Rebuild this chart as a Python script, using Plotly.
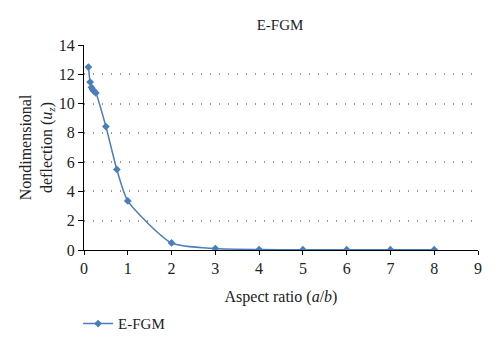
import plotly.graph_objects as go

aspect_ratio = [0.1, 0.14, 0.17, 0.2, 0.23, 0.27, 0.5, 0.75, 1, 2, 3, 4, 5, 6, 7, 8]
deflection = [12.49, 11.47, 11.1, 10.95, 10.84, 10.73, 8.43, 5.5, 3.35, 0.48, 0.1, 0.03, 0.02, 0.02, 0.02, 0.02]

x_ticks = [0, 1, 2, 3, 4, 5, 6, 7, 8, 9]
y_ticks = [0, 2, 4, 6, 8, 10, 12, 14]

color = "#4a7ebb"
font = "Liberation Serif"

fig = go.Figure()
fig.add_trace(go.Scatter(
    x=aspect_ratio, y=deflection, mode="lines+markers", name="E-FGM",
    line=dict(color=color, width=1.5, shape="spline", smoothing=0.6),
    marker=dict(symbol="diamond", size=6, color=color),
))

fig.update_layout(
    width=500, height=352,
    margin=dict(l=84, r=22, t=45, b=100),
    paper_bgcolor="white", plot_bgcolor="white",
    font=dict(family=font, size=16, color="#222"),
    title=dict(text="E-FGM", x=0.56, xanchor="center", y=0.93, yanchor="middle",
               font=dict(family=font, size=15, color="#222")),
    showlegend=True,
    legend=dict(x=-0.015, xanchor="left", y=-0.36, yanchor="middle",
                font=dict(family=font, size=15, color="#222"), bgcolor="rgba(0,0,0,0)"),
    xaxis=dict(range=[0, 9], tickvals=x_ticks, showline=True, linecolor="black", linewidth=1,
               ticks="outside", ticklen=4, tickcolor="black", showgrid=False, zeroline=False,
               tickfont=dict(family=font, size=16),
               title=dict(text="Aspect ratio (<i>a</i>/<i>b</i>)", standoff=14,
                          font=dict(family=font, size=16))),
    yaxis=dict(range=[0, 14], tickvals=y_ticks, showline=True, linecolor="black", linewidth=1,
               ticks="outside", ticklen=5, tickcolor="black", showgrid=True,
               gridcolor="#999", griddash="1px,8px", gridwidth=1.5, zeroline=False,
               tickfont=dict(family=font, size=16),
               title=dict(text="Nondimensional<br>deflection (<i>u</i><sub><i>z</i></sub>)", standoff=2,
                          font=dict(family=font, size=16))),
)

fig.write_html("out.html")
